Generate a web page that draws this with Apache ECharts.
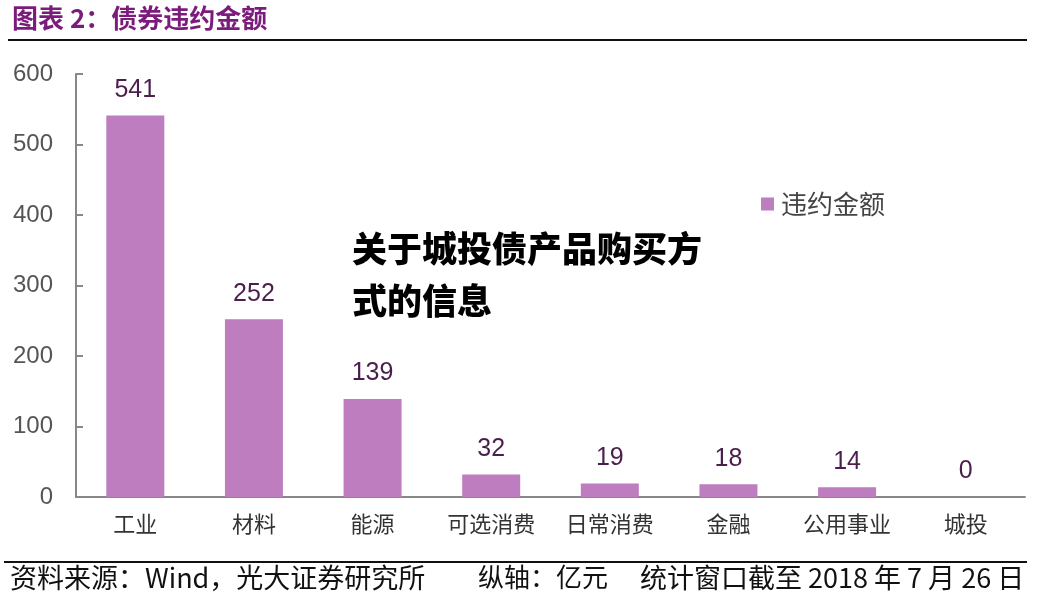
<!DOCTYPE html>
<html><head><meta charset="utf-8">
<script src="https://cdn.jsdelivr.net/npm/echarts@6/dist/echarts.min.js"></script>
<style>html,body{margin:0;padding:0;background:#fff}#c{width:1049px;height:606px}</style>
</head><body><div id="c"></div>
<script>
var categories = ['工业','材料','能源','可选消费','日常消费','金融','公用事业','城投'];
var values = [541, 252, 139, 32, 19, 18, 14, 0];
var yTicks = [0, 100, 200, 300, 400, 500, 600];
var seriesName = '违约金额';

var chart = echarts.init(document.getElementById('c'));
var cjk = '"Noto Sans CJK SC", sans-serif';
var latin = '"Liberation Sans", Arial, sans-serif';
chart.setOption({
  animation: false,
  backgroundColor: '#fff',
  grid: {left: 76, right: 24, top: 74, bottom: 109},
  legend: {
    data: [seriesName], left: 756, top: 186, itemWidth: 13, itemHeight: 13, icon: 'rect', itemGap: 8,
    textStyle: {fontFamily: cjk, fontSize: 26, color: '#444', padding: [0, 0, 0, 2]}
  },
  xAxis: {
    type: 'category', data: categories,
    axisLine: {lineStyle: {color: '#888', width: 2}},
    axisTick: {show: false},
    axisLabel: {fontFamily: cjk, fontSize: 22, color: '#333', margin: 16}
  },
  yAxis: {
    type: 'value', min: yTicks[0], max: yTicks[yTicks.length - 1], interval: 100,
    axisLine: {show: true, lineStyle: {color: '#888', width: 2}},
    axisTick: {show: true, inside: true, length: 7, lineStyle: {color: '#888', width: 2}},
    splitLine: {show: false},
    axisLabel: {fontFamily: latin, fontSize: 24, color: '#555', margin: 23}
  },
  series: [{
    name: seriesName, type: 'bar', data: values, barWidth: 58,
    itemStyle: {color: '#BD7DBF'},
    label: {show: true, position: 'top', distance: 13, fontFamily: latin, fontSize: 25, color: '#4B1E4B'}
  }],
  graphic: [
    {type: 'text', left: 12, top: 5, style: {text: '图表 2：债券违约金额', fontFamily: cjk, fontWeight: 'bold', fontSize: 26, fill: '#7B1B7B'}},
    {type: 'rect', shape: {x: 8, y: 39, width: 1019, height: 2}, style: {fill: '#111'}},
    {type: 'rect', shape: {x: 4, y: 561, width: 1023, height: 2}, style: {fill: '#111'}},
    {type: 'text', left: 10, top: 564, style: {text: '资料来源：Wind，光大证券研究所', fontFamily: cjk, fontSize: 27, fill: '#111'}},
    {type: 'text', left: 478, top: 564, style: {text: '纵轴：亿元', fontFamily: cjk, fontSize: 26, fill: '#111'}},
    {type: 'text', left: 640, top: 564, style: {text: '统计窗口截至 2018 年 7 月 26 日', fontFamily: cjk, fontSize: 27, fill: '#111'}},
    {type: 'text', left: 352, top: 223, style: {text: '关于城投债产品购买方\n式的信息', fontFamily: cjk, fontWeight: 900, fontSize: 35, lineHeight: 52, fill: '#000'}}
  ]
});
</script></body></html>
